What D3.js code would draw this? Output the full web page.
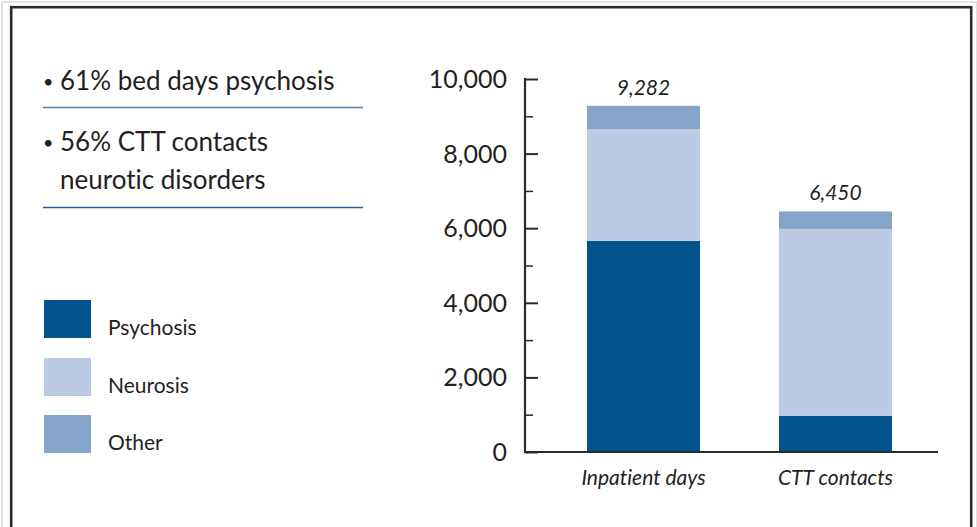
<!DOCTYPE html>
<html>
<head>
<meta charset="utf-8">
<script src="https://cdn.jsdelivr.net/npm/d3@7"></script>
<style>
  html, body { margin: 0; padding: 0; background: #fff; }
  svg { display: block; }
  text { font-family: Lato, "Open Sans", sans-serif; fill: #231f20; font-variant-ligatures: none; }
</style>
</head>
<body>
<svg id="chart" width="977" height="527"></svg>
<script>
const categories = ["Inpatient days", "CTT contacts"];
const seriesNames = ["Psychosis", "Neurosis", "Other"];
const psychosis = [5660, 970];
const neurosis = [3000, 5010];
const other = [622, 470];
const totals = [9282, 6450];
const yTicks = [0, 2000, 4000, 6000, 8000, 10000];
const yMinorTicks = [1000, 3000, 5000, 7000, 9000];
const bullets = [["61% bed days psychosis"], ["56% CTT contacts", "neurotic disorders"]];
const colors = ["#03548c", "#bccbe3", "#84a4c9"];

const svg = d3.select("#chart");

// frame
svg.append("rect").attr("x", 2).attr("y", 2).attr("width", 975).attr("height", 540)
  .attr("fill", "none").attr("stroke", "#e2e2e2").attr("stroke-width", 2);
svg.append("rect").attr("x", 11.2).attr("y", 7.2).attr("width", 960).attr("height", 540)
  .attr("fill", "#fff").attr("stroke", "#2b2b2b").attr("stroke-width", 2.6);

// scales
const y = d3.scaleLinear().domain([0, 10000]).range([452, 79]);
const x = d3.scaleBand().domain(categories).range([525, 954]).paddingInner(0.411).paddingOuter(0.323);

// stacked data
const rows = categories.map((c, i) => ({ cat: c, Psychosis: psychosis[i], Neurosis: neurosis[i], Other: other[i] }));
const stack = d3.stack().keys(seriesNames)(rows);

const g = svg.append("g");
g.selectAll("g.layer").data(stack).join("g").attr("class", "layer")
  .attr("fill", (d, i) => colors[i])
  .selectAll("rect").data(d => d).join("rect")
  .attr("x", d => x(d.data.cat))
  .attr("width", x.bandwidth())
  .attr("y", d => y(d[1]))
  .attr("height", d => y(d[0]) - y(d[1]));

// total labels
g.selectAll("text.total").data(categories).join("text").attr("class", "total")
  .attr("x", c => x(c) + x.bandwidth() / 2)
  .attr("y", (c, i) => y(totals[i]) - 11)
  .attr("text-anchor", "middle")
  .attr("font-size", 21).attr("font-style", "italic")
  .text((c, i) => d3.format(",")(totals[i]));

// y axis
const axisColor = "#2b2b2b";
const yAxis = svg.append("g").attr("transform", "translate(525,0)")
  .call(d3.axisRight(y).tickValues(yTicks).tickSize(13).tickFormat(""));
yAxis.select(".domain").remove();
yAxis.selectAll(".tick line").attr("stroke", axisColor).attr("stroke-width", 2);
const yMinor = svg.append("g").attr("transform", "translate(525,0)")
  .call(d3.axisRight(y).tickValues(yMinorTicks).tickSize(8).tickFormat(""));
yMinor.select(".domain").remove();
yMinor.selectAll(".tick line").attr("stroke", axisColor).attr("stroke-width", 1.5);
svg.append("line").attr("x1", 525).attr("x2", 525).attr("y1", y(10000) - 1).attr("y2", y(0) + 1)
  .attr("stroke", axisColor).attr("stroke-width", 2.2);
svg.selectAll("text.ytick").data(yTicks).join("text").attr("class", "ytick")
  .attr("x", 507).attr("y", d => y(d) + 9)
  .attr("text-anchor", "end").attr("font-size", 25)
  .text(d => d3.format(",")(d));

// x axis
const xAxis = svg.append("g").attr("transform", `translate(0,${y(0)})`)
  .call(d3.axisBottom(x).tickSize(0).tickPadding(18));
xAxis.select(".domain").remove();
xAxis.selectAll(".tick text").attr("font-size", 21).attr("font-style", "italic")
  .attr("font-family", "Lato, sans-serif").attr("fill", "#231f20");
svg.append("line").attr("x1", 524).attr("x2", 938).attr("y1", y(0)).attr("y2", y(0))
  .attr("stroke", axisColor).attr("stroke-width", 2.2);

// bullet text
const bulletY = [[90], [151, 189]];
const ruleY = [107.5, 207.5];
const ruleColors = ["#4f86b5", "#27609a"];
bullets.forEach((lines, i) => {
  svg.append("text").attr("x", 43).attr("y", bulletY[i][0] - 2).attr("font-size", 18).text("•");
  lines.forEach((t, j) => {
    svg.append("text").attr("x", 60).attr("y", bulletY[i][j]).attr("font-size", 26).text(t);
  });
  svg.append("line").attr("x1", 43).attr("x2", 363).attr("y1", ruleY[i]).attr("y2", ruleY[i])
    .attr("stroke", ruleColors[i]).attr("stroke-width", 1.5);
});

// legend
const legY = [300, 358, 415];
const leg = svg.selectAll("g.leg").data(seriesNames).join("g").attr("class", "leg");
leg.append("rect").attr("x", 44).attr("y", (d, i) => legY[i]).attr("width", 47).attr("height", 38)
  .attr("fill", (d, i) => colors[i]);
leg.append("text").attr("x", 108).attr("y", (d, i) => legY[i] + 35)
  .attr("font-size", 21).text(d => d);
</script>
</body>
</html>
